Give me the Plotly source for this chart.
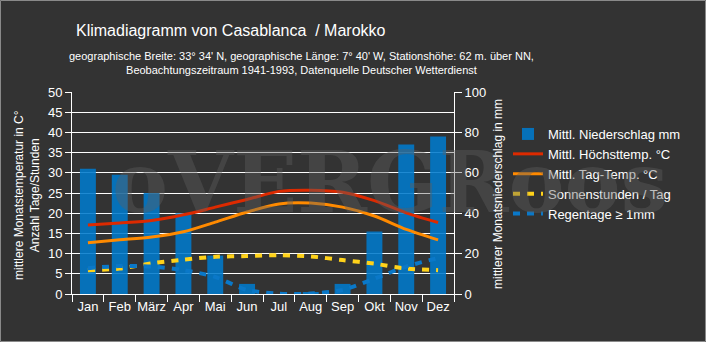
import plotly.graph_objects as go

months = ["Jan", "Feb", "März", "Apr", "Mai", "Jun", "Jul", "Aug", "Sep", "Okt", "Nov", "Dez"]
precip_mm = [62, 59, 50, 40, 19, 5, 0, 1, 5, 31, 74, 78]
temp_max = [17.1, 17.6, 18.2, 19.6, 21.5, 23.4, 25.4, 25.7, 25.2, 23.1, 20.1, 17.7]
temp_mean = [12.7, 13.4, 14.1, 15.4, 17.8, 20.3, 22.3, 22.5, 21.5, 19.3, 16.0, 13.4]
sun_hours = [5.9, 6.3, 7.6, 8.5, 9.2, 9.4, 9.6, 9.3, 8.4, 7.5, 6.3, 5.9]
rain_days = [6.4, 6.9, 6.8, 5.9, 4.2, 1.0, 0.1, 0.1, 1.0, 3.8, 6.8, 8.9]

W, H = 706, 342
L, R, T, B = 72, 252, 92, 48
pw, ph = W - L - R, H - T - B

def px(x):
    return (x - L) / pw

def py(y):
    return (H - B - y) / ph

FONT = "Liberation Sans, Arial, sans-serif"
BG = "#333333"

fig = go.Figure()
fig.add_trace(go.Bar(x=months, y=precip_mm, name="Mittl. Niederschlag mm", yaxis="y",
                     marker=dict(color="rgba(0,122,204,0.88)", line=dict(width=0)), width=0.5))
fig.add_trace(go.Scatter(x=months, y=temp_max, name="Mittl. Höchsttemp. °C", yaxis="y2", mode="lines",
                         line=dict(color="#dd2a00", width=3, shape="spline", smoothing=0.8)))
fig.add_trace(go.Scatter(x=months, y=temp_mean, name="Mittl. Tag-Temp. °C", yaxis="y2", mode="lines",
                         line=dict(color="#ff8a00", width=3, shape="spline", smoothing=0.8)))
fig.add_trace(go.Scatter(x=months, y=sun_hours, name="Sonnenstunden / Tag", yaxis="y2", mode="lines",
                         line=dict(color="#ffd21a", width=4, dash="7px,7px", shape="spline", smoothing=0.8)))
fig.add_trace(go.Scatter(x=months, y=rain_days, name="Regentage ≥ 1mm", yaxis="y2", mode="lines",
                         line=dict(color="#0a78c8", width=4, dash="7px,7px", shape="spline", smoothing=0.8)))

axis_common = dict(color="white", linecolor="white", linewidth=1, showline=True,
                   tickfont=dict(family=FONT, size=13, color="white"), zeroline=False)

fig.update_layout(
    width=W, height=H,
    margin=dict(l=L, r=R, t=T, b=B, pad=0),
    paper_bgcolor=BG, plot_bgcolor=BG,
    font=dict(family=FONT, color="white"),
    bargap=0.5,
    xaxis=dict(**axis_common, type="category", showgrid=False, ticks="outside", ticklen=7,
               tickcolor="white", tickson="boundaries", tickangle=0, mirror=False),
    yaxis=dict(**axis_common, side="right", range=[0, 100], dtick=20, ticks="outside", ticklen=7,
               tickcolor="white", showgrid=False),
    yaxis2=dict(**axis_common, side="left", overlaying="y", range=[0, 50], dtick=5, ticks="outside",
                ticklen=6, tickcolor="white", showgrid=True, gridcolor="white", gridwidth=1),
    legend=dict(x=px(508), y=py(119), xanchor="left", yanchor="top", bgcolor="rgba(0,0,0,0)",
                font=dict(family=FONT, size=13, color="white"), itemwidth=30, tracegroupgap=0),
    showlegend=True,
)

annotations = [
    dict(text="oVERGRoos", x=px(390), y=py(182), xref="paper", yref="paper", showarrow=False,
         font=dict(family="DejaVu Serif", size=84, weight="bold", color="rgba(95,95,95,0.4)"),
         xanchor="center", yanchor="middle"),
    dict(text="Klimadiagramm von Casablanca  / Marokko", x=px(74), y=py(31), xref="paper", yref="paper",
         showarrow=False, xanchor="left", yanchor="middle", font=dict(family=FONT, size=16, color="white")),
    dict(text="geographische Breite: 33° 34' N, geographische Länge: 7° 40' W, Stationshöhe: 62 m. über NN,<br>"
              "Beobachtungszeitraum 1941-1993, Datenquelle Deutscher Wetterdienst",
         x=px(301), y=py(62.5), xref="paper", yref="paper", showarrow=False, xanchor="center", yanchor="middle",
         align="center", font=dict(family=FONT, size=11, color="white")),
    dict(text="mittlere Monatstemperatur in C°<br>Anzahl Tage/Stunden", x=px(27), y=py(195), xref="paper",
         yref="paper", showarrow=False, textangle=-90, xanchor="center", yanchor="middle", align="center",
         font=dict(family=FONT, size=12, color="white")),
    dict(text="mittlerer Monatsniederschlag in mm", x=px(498), y=py(194), xref="paper", yref="paper",
         showarrow=False, textangle=-90, xanchor="center", yanchor="middle",
         font=dict(family=FONT, size=12, color="white")),
]
fig.update_layout(annotations=annotations)

fig.add_shape(type="rect", xref="paper", yref="paper", x0=px(0.5), x1=px(W - 0.5), y0=py(H - 0.5), y1=py(0.5),
              line=dict(color="#8a8a8a", width=1), layer="above")

fig.write_html("out.html")
